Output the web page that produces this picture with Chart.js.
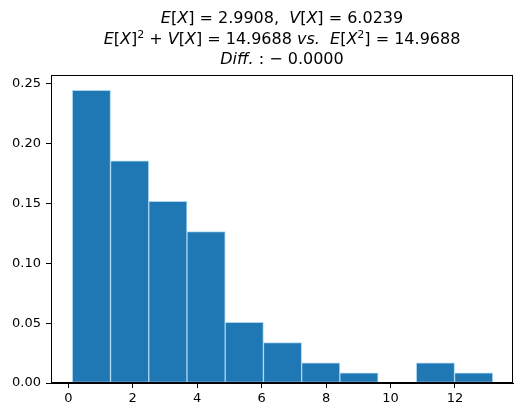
<!DOCTYPE html>
<html>
<head>
<meta charset="utf-8">
<script src="https://cdn.jsdelivr.net/npm/chart.js@4"></script>
<style>
html,body{margin:0;padding:0;background:#fff;}
#wrap{width:525px;height:417px;}
</style>
</head>
<body>
<div id="wrap"><canvas id="c" width="525" height="417"></canvas></div>
<script>
// Histogram bin edges (x) and density values per bin
const binEdges = [0.124, 1.310, 2.496, 3.683, 4.869, 6.055, 7.241, 8.427, 9.614, 10.800, 11.986, 13.172];
const densities = [0.2445, 0.1855, 0.1518, 0.1265, 0.0506, 0.0337, 0.0169, 0.0084, 0.0, 0.0169, 0.0084];
const yTicks = [0.00, 0.05, 0.10, 0.15, 0.20, 0.25];
const xTicks = [0, 2, 4, 6, 8, 10, 12];

// Title lines as runs: [text, style] (n = upright, i = italic, s = superscript)
const titleLines = [
  [["E","i"],["[","n"],["X","i"],["]","n"],[" = 2.9908,  ","n"],["V","i"],["[","n"],["X","i"],["]","n"],[" = 6.0239","n"]],
  [["E","i"],["[","n"],["X","i"],["]","n"],["2","s"],[" + ","n"],["V","i"],["[","n"],["X","i"],["]","n"],[" = 14.9688 ","n"],["vs.","i"],["  ","n"],["E","i"],["[","n"],["X","i"],["2","s"],["]","n"],[" = 14.9688","n"]],
  [["Diff.","i"],[" : \u2212 0.0000","n"]]
];

const points = densities.map((d, i) => ({x: (binEdges[i] + binEdges[i+1]) / 2, y: d}));

const TITLE_PX = 16;
const FAM = '"DejaVu Sans", sans-serif';
function fontFor(style){
  if (style === 'i') return 'oblique ' + TITLE_PX + 'px ' + FAM;
  if (style === 's') return Math.round(TITLE_PX*0.7) + 'px ' + FAM;
  return TITLE_PX + 'px ' + FAM;
}

const titlePlugin = {
  id: 'richTitle',
  afterDraw(chart){
    const ctx = chart.ctx;
    const area = chart.chartArea;
    const cx = (area.left + area.right) / 2;
    const baselines = [22.5, 44, 63.5];
    ctx.save();
    ctx.fillStyle = '#000';
    ctx.textBaseline = 'alphabetic';
    ctx.textAlign = 'left';
    titleLines.forEach((runs, li) => {
      let w = 0;
      runs.forEach(([t, s]) => { ctx.font = fontFor(s); w += ctx.measureText(t).width; });
      let x = cx - w / 2;
      runs.forEach(([t, s]) => {
        ctx.font = fontFor(s);
        const y = baselines[li] - (s === 's' ? 6.5 : 0);
        ctx.fillText(t, x, y);
        x += ctx.measureText(t).width;
      });
    });
    // axes frame
    ctx.strokeStyle = '#000';
    ctx.lineWidth = 1;
    ctx.strokeRect(Math.round(area.left) + 0.5, Math.round(area.top) + 0.5,
                   Math.round(area.right - area.left) - 1, Math.round(area.bottom - area.top) - 1);
    ctx.restore();
  }
};

new Chart(document.getElementById('c'), {
  type: 'bar',
  data: {
    datasets: [{
      data: points,
      backgroundColor: '#1f77b4',
      borderColor: '#a9d6ee',
      borderWidth: 1,
      barPercentage: 1.0,
      categoryPercentage: 1.0,
      borderSkipped: false
    }]
  },
  options: {
    responsive: false,
    animation: false,
    devicePixelRatio: 1,
    layout: { padding: { top: 75, right: 12, left: 0, bottom: 0 } },
    plugins: { legend: { display: false }, tooltip: { enabled: false }, title: { display: false } },
    scales: {
      x: {
        type: 'linear',
        offset: false,
        min: -0.537,
        max: 13.80,
        afterBuildTicks(scale){ scale.ticks = xTicks.map(v => ({value: v})); },
        afterFit(scale){ scale.height = 34; },
        grid: { offset: false, drawOnChartArea: false, drawTicks: true, tickLength: 5, color: '#000', lineWidth: 1 },
        border: { display: true, color: '#000', width: 1 },
        ticks: { color: '#000', font: { family: FAM, size: 13 }, padding: 3, maxRotation: 0,
                 callback: v => String(v) }
      },
      y: {
        min: 0,
        max: 0.2573,
        afterBuildTicks(scale){ scale.ticks = yTicks.map(v => ({value: v})); },
        afterFit(scale){ scale.width = 51; },
        grid: { drawOnChartArea: false, drawTicks: true, tickLength: 5, color: '#000', lineWidth: 1 },
        border: { display: true, color: '#000', width: 1 },
        ticks: { color: '#000', font: { family: FAM, size: 13 }, padding: 5,
                 callback: v => Number(v).toFixed(2) }
      }
    }
  },
  plugins: [titlePlugin]
});
</script>
</body>
</html>
